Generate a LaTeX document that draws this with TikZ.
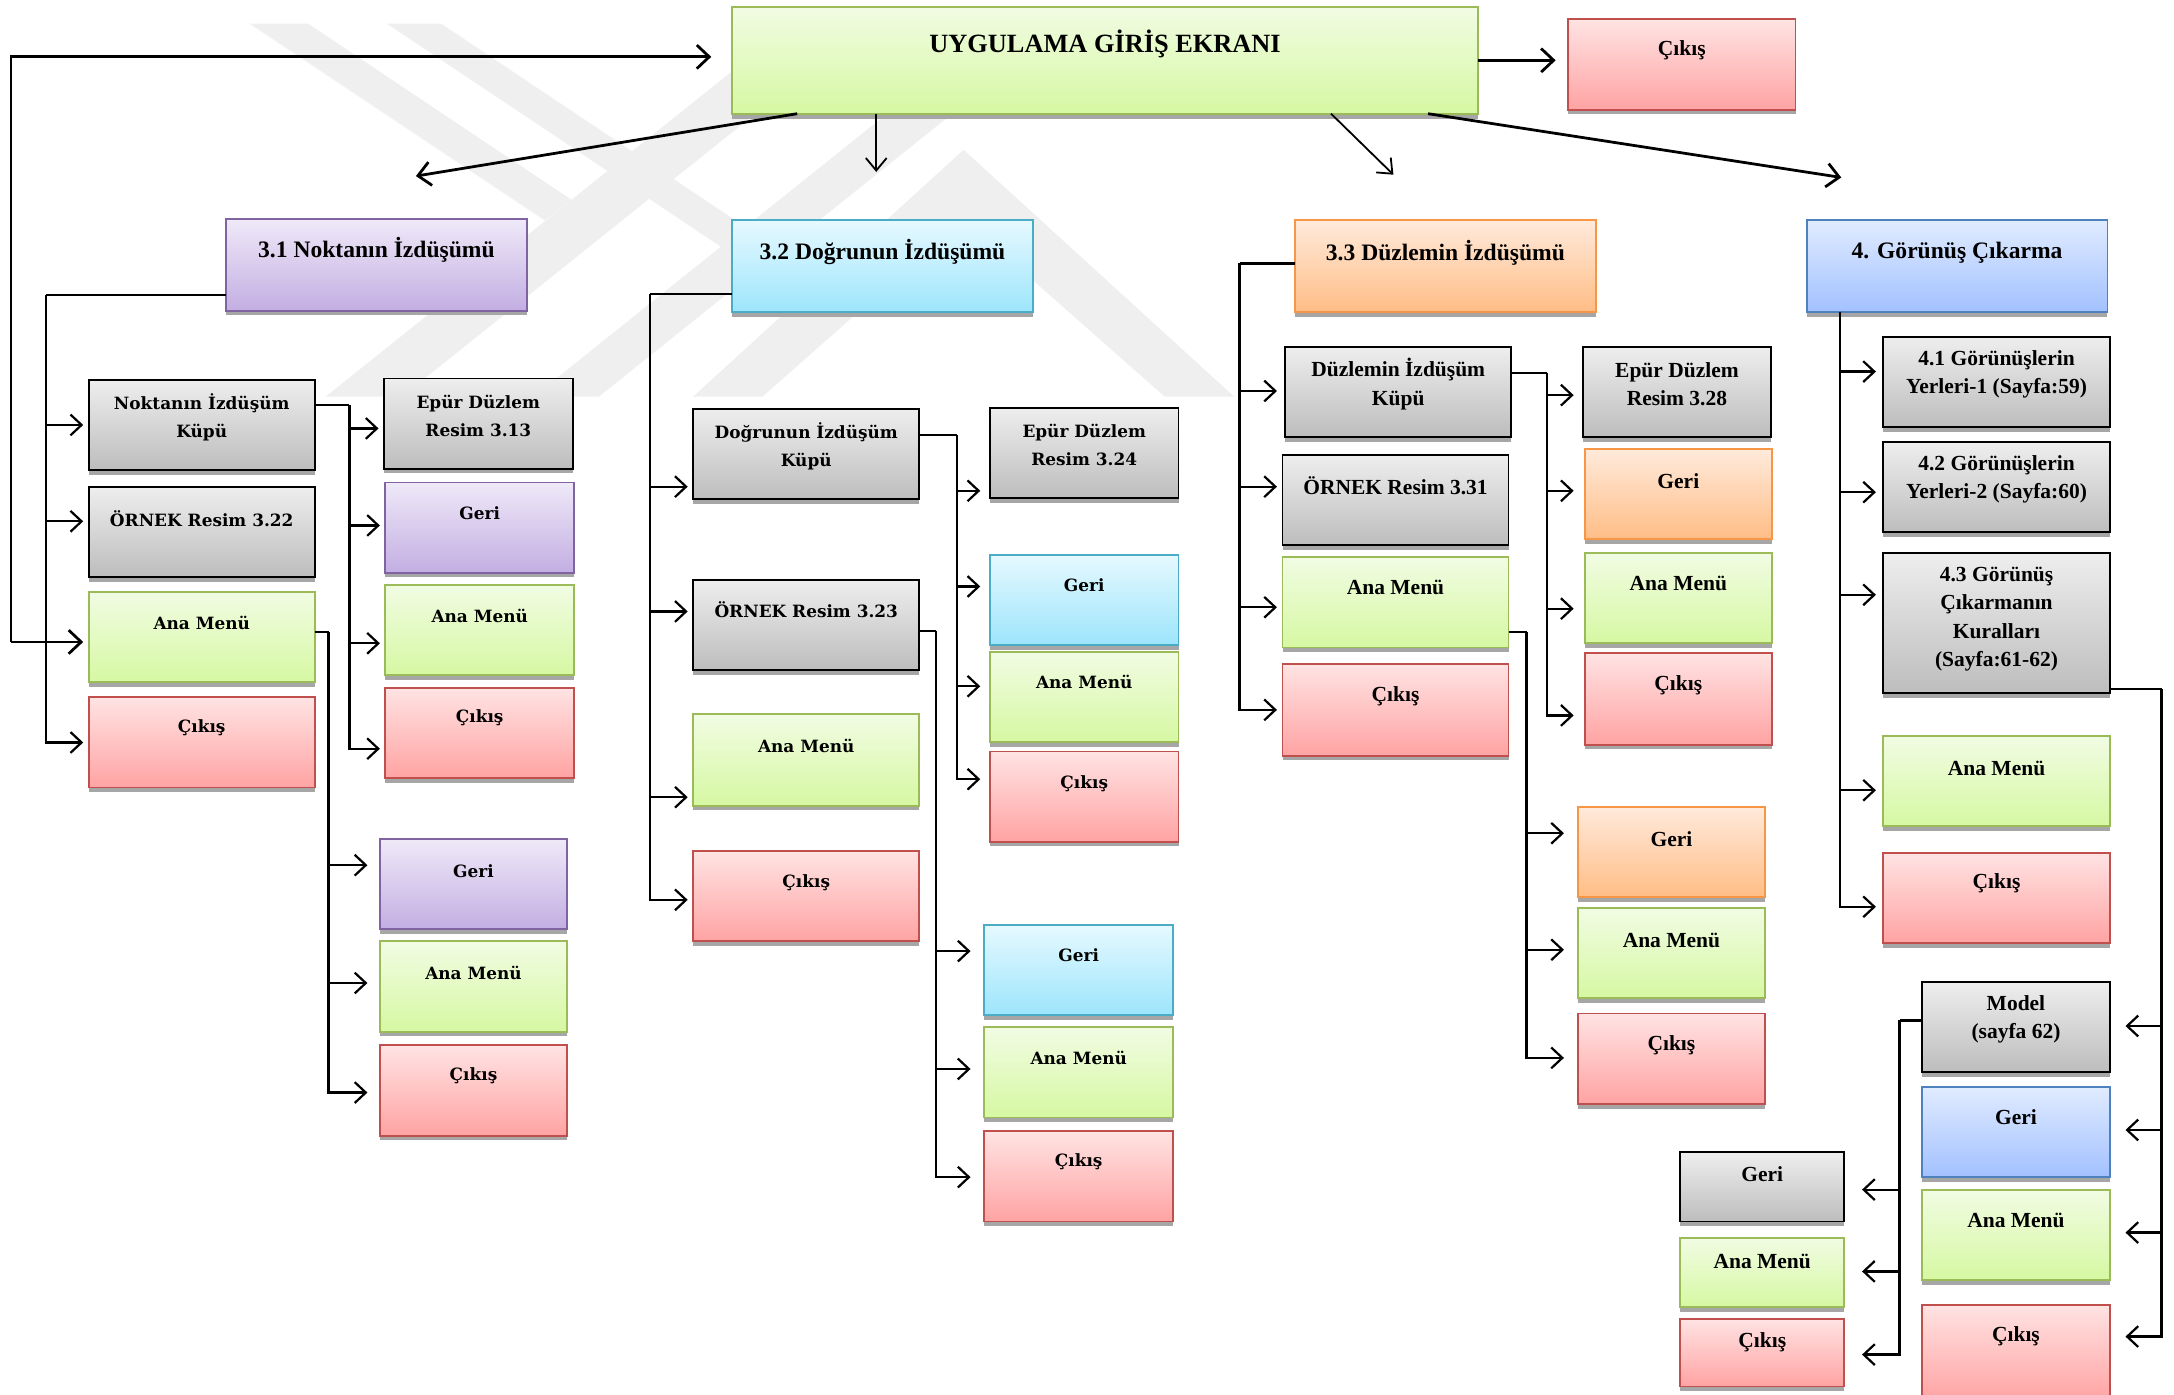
\documentclass[tikz,border=0pt]{standalone}
\usepackage{fontspec}
\setmainfont{Liberation Serif}
\newfontfamily\widefont{DejaVu Serif}
\usetikzlibrary{arrows.meta}
\definecolor{wm}{HTML}{EFEFEF}
\definecolor{shadowc}{HTML}{A6A6A6}
\definecolor{gT}{HTML}{F1FCE3}\definecolor{gB}{HTML}{D6F8A2}\definecolor{gD}{HTML}{9BBB59}
\definecolor{rT}{HTML}{FFE3E3}\definecolor{rB}{HTML}{FFA3A3}\definecolor{rD}{HTML}{C0504D}
\definecolor{yT}{HTML}{EEEEEE}\definecolor{yB}{HTML}{BDBDBD}
\definecolor{pT}{HTML}{EFE9F8}\definecolor{pB}{HTML}{C3AEE2}\definecolor{pD}{HTML}{8064A2}
\definecolor{cT}{HTML}{E6F9FF}\definecolor{cB}{HTML}{9DE5FC}\definecolor{cD}{HTML}{4BACC6}
\definecolor{oT}{HTML}{FFEADB}\definecolor{oB}{HTML}{FFBD86}\definecolor{oD}{HTML}{F79646}
\definecolor{bT}{HTML}{E0EBFF}\definecolor{bB}{HTML}{A2C1FF}\definecolor{bD}{HTML}{4F81BD}
\tikzset{
  bxbase/.style={rectangle, anchor=north west, line width=1.4pt, inner sep=0pt, outer sep=0pt},
  gbox/.style={top color=gT, bottom color=gB, draw=gD},
  rbox/.style={top color=rT, bottom color=rB, draw=rD},
  ybox/.style={top color=yT, bottom color=yB, draw=black},
  pbox/.style={top color=pT, bottom color=pB, draw=pD},
  cbox/.style={top color=cT, bottom color=cB, draw=cD},
  obox/.style={top color=oT, bottom color=oB, draw=oD},
  bbox/.style={top color=bT, bottom color=bB, draw=bD},
  txt/.style={inner sep=0pt, align=center, anchor=center},
  tf/.style={font=\fontsize{15.5}{20.3}\selectfont\bfseries},
  wf/.style={font=\widefont\fontsize{12.2}{20}\selectfont\bfseries},
  hf/.style={font=\fontsize{17}{20}\selectfont\bfseries},
  mf/.style={font=\fontsize{19}{22}\selectfont\bfseries},
  conn/.style={line width=1.6pt},
  arr/.style={conn, -{Straight Barb[length=8pt,width=15pt]}},
  arrT/.style={line width=2pt, -{Straight Barb[length=9pt,width=17pt]}},
  arrt/.style={line width=1.3pt, -{Straight Barb[length=9pt,width=15pt]}},
}
\newcommand\bx[9]{%
  \fill[shadowc] (#3,#6) rectangle (#5,#6+3.5);
  \node[bxbase,#2,minimum width=#5-#3,minimum height=#6-#4] (#1) at (#3,#4) {};
  \node[txt,#8] (#1t) at ({(#3+#5)/2},#7) {#9};
}
\newcommand\brw[4]{\draw[arr] (#1) |- ([xshift=#3pt,yshift=#4pt]#2);}
\begin{document}
\begin{tikzpicture}[x=1pt,y=-1pt]
\useasboundingbox (0,0) rectangle (1568,1006);
\clip (0,0) rectangle (1568,1006);
\fill[white] (0,0) rectangle (1568,1006);
% watermark
\fill[wm] (180,17) -- (222,17) -- (412,144) -- (393,159) -- cycle;
\fill[wm] (235,286) -- (290,286) -- (626,17) -- (571,17) -- cycle;
\fill[wm] (279,17) -- (318,17) -- (538,164) -- (520,178) -- cycle;
\fill[wm] (385,286) -- (432,286) -- (768,17) -- (721,17) -- cycle;
\fill[wm] (500,286) -- (695,108) -- (890,286) -- (840,286) -- (695,158) -- (550,286) -- cycle;

% boxes
\bx{main}{gbox}{528}{5}{1066}{82}{32}{mf}{UYGULAMA GİRİŞ EKRANI}
\bx{ex0}{rbox}{1131}{14}{1295}{79}{36}{tf}{Çıkış}
\bx{h31}{pbox}{163}{158}{380}{224}{180}{hf}{3.1 Noktanın İzdüşümü}
\bx{h32}{cbox}{528}{159}{745}{225}{182}{hf}{3.2 Doğrunun İzdüşümü}
\bx{h33}{obox}{934}{159}{1151}{225}{182}{hf}{3.3 Düzlemin İzdüşümü}
\bx{h40}{bbox}{1303}{159}{1520}{225}{182}{hf}{4. Görünüş Çıkarma}

\bx{a1}{ybox}{64}{274}{227}{339}{301}{wf}{Noktanın İzdüşüm\\Küpü}
\bx{a2}{ybox}{64}{351}{227}{416}{374}{wf}{ÖRNEK Resim 3.22}
\bx{a3}{gbox}{64}{427}{227}{492}{449}{wf}{Ana Menü}
\bx{a4}{rbox}{64}{503}{227}{568}{525}{wf}{Çıkış}
\bx{b1}{ybox}{277}{273}{413}{338}{300}{wf}{Epür Düzlem\\Resim 3.13}
\bx{b2}{pbox}{278}{348}{414}{413}{370}{wf}{Geri}
\bx{b3}{gbox}{278}{422}{414}{487}{444}{wf}{Ana Menü}
\bx{b4}{rbox}{278}{496}{414}{561}{518}{wf}{Çıkış}
\bx{c1}{pbox}{274}{605}{409}{670}{628}{wf}{Geri}
\bx{c2}{gbox}{274}{679}{409}{744}{702}{wf}{Ana Menü}
\bx{c3}{rbox}{274}{754}{409}{819}{776}{wf}{Çıkış}

\bx{d1}{ybox}{500}{295}{663}{360}{322}{wf}{Doğrunun İzdüşüm\\Küpü}
\bx{d2}{ybox}{500}{418}{663}{483}{440}{wf}{ÖRNEK Resim 3.23}
\bx{d3}{gbox}{500}{515}{663}{581}{538}{wf}{Ana Menü}
\bx{d4}{rbox}{500}{614}{663}{679}{637}{wf}{Çıkış}
\bx{e1}{ybox}{714}{294}{850}{359}{321}{wf}{Epür Düzlem\\Resim 3.24}
\bx{e2}{cbox}{714}{400}{850}{465}{422}{wf}{Geri}
\bx{e3}{gbox}{714}{470}{850}{535}{492}{wf}{Ana Menü}
\bx{e4}{rbox}{714}{542}{850}{607}{565}{wf}{Çıkış}
\bx{f1}{cbox}{710}{667}{846}{732}{689}{wf}{Geri}
\bx{f2}{gbox}{710}{741}{846}{806}{763}{wf}{Ana Menü}
\bx{f3}{rbox}{710}{816}{846}{881}{838}{wf}{Çıkış}

\bx{g1}{ybox}{927}{250}{1090}{315}{277}{tf}{Düzlemin İzdüşüm\\Küpü}
\bx{g2}{ybox}{925}{328}{1088}{393}{350}{tf}{ÖRNEK Resim 3.31}
\bx{g3}{gbox}{925}{402}{1088}{467}{424}{tf}{Ana Menü}
\bx{g4}{rbox}{925}{479}{1088}{545}{502}{tf}{Çıkış}
\bx{q1}{ybox}{1142}{250}{1277}{315}{277}{tf}{Epür Düzlem\\Resim 3.28}
\bx{q2}{obox}{1143}{324}{1278}{389}{347}{tf}{Geri}
\bx{q3}{gbox}{1143}{399}{1278}{464}{421}{tf}{Ana Menü}
\bx{q4}{rbox}{1143}{471}{1278}{537}{494}{tf}{Çıkış}
\bx{i1}{obox}{1138}{582}{1273}{647}{605}{tf}{Geri}
\bx{i2}{gbox}{1138}{655}{1273}{720}{678}{tf}{Ana Menü}
\bx{i3}{rbox}{1138}{731}{1273}{796}{754}{tf}{Çıkış}

\bx{k1}{ybox}{1358}{243}{1522}{308}{270}{tf}{4.1 Görünüşlerin\\Yerleri-1 (Sayfa:59)}
\bx{k2}{ybox}{1358}{319}{1522}{384}{345.5}{tf}{4.2 Görünüşlerin\\Yerleri-2 (Sayfa:60)}
\bx{k3}{ybox}{1358}{399}{1522}{500}{446.5}{tf}{4.3 Görünüş\\Çıkarmanın\\Kuralları\\(Sayfa:61-62)}
\bx{k4}{gbox}{1358}{531}{1522}{596}{554}{tf}{Ana Menü}
\bx{k5}{rbox}{1358}{615}{1522}{680}{637}{tf}{Çıkış}
\bx{m1}{ybox}{1386}{708}{1522}{773}{735}{tf}{Model\\(sayfa 62)}
\bx{m2}{bbox}{1386}{784}{1522}{849}{806}{tf}{Geri}
\bx{m3}{gbox}{1386}{858}{1522}{923}{880}{tf}{Ana Menü}
\bx{m4}{rbox}{1386}{941}{1522}{1010}{964}{tf}{Çıkış}
\bx{n1}{ybox}{1212}{831}{1330}{881}{847}{tf}{Geri}
\bx{n2}{gbox}{1212}{893}{1330}{943}{910}{tf}{Ana Menü}
\bx{n3}{rbox}{1212}{951}{1330}{1000}{968}{tf}{Çıkış}

% connectors from the main box
\coordinate (lp) at (8,463);
\draw[arrT] (lp) |- ([xshift=-15pt,yshift=2.5pt]main.west);
\draw[arrT, shorten >=4pt] (lp) -- (lp -| a3.west);
\coordinate (p31) at (300,127);
\coordinate (p32) at (632,124);
\coordinate (p33) at (1005,126);
\coordinate (p4) at (1328,128);
\draw[arrT] ([xshift=47pt]main.south west) -- (p31);
\draw[arrt] ([xshift=104pt]main.south west) -- (p32);
\draw[arrt] ([xshift=432pt]main.south west) -- (p33);
\draw[arrT] ([xshift=502pt]main.south west) -- (p4);
\draw[arrT, shorten >=9pt] (main.east) -- (main.east -| ex0.west);

% 3.1
\coordinate (t31) at (33,213);
\draw[conn] (h31.west |- t31) -- (t31);
\brw{t31}{a1.west}{-4}{0}
\brw{t31}{a2.west}{-4}{7.5}
\brw{t31}{a4.west}{-4}{0}
\coordinate (tb) at (252,292);
\draw[conn] (a1.east |- tb) -- (tb);
\brw{tb}{b1.west}{-4}{-3.5}
\brw{tb}{b2.west}{-4}{1.5}
\brw{tb}{b3.west}{-4}{-9.5}
\brw{tb}{b4.west}{-4}{-11.5}
\coordinate (tc) at (237,456);
\draw[conn] (a3.east |- tc) -- (tc);
\brw{tc}{c1.west}{-9}{13.5}
\brw{tc}{c2.west}{-9}{2.5}
\brw{tc}{c3.west}{-9}{-1.5}

% 3.2
\coordinate (t32) at (469,212);
\draw[conn] (h32.west |- t32) -- (t32);
\brw{t32}{d1.west}{-4}{-23.5}
\brw{t32}{d2.west}{-4}{9.5}
\brw{t32}{d3.west}{-4}{-27}
\brw{t32}{d4.west}{-4}{-2.5}
\coordinate (te) at (690,314);
\draw[conn] (d1.east |- te) -- (te);
\brw{te}{e1.west}{-7}{-27.5}
\brw{te}{e2.west}{-7}{9.5}
\brw{te}{e3.west}{-7}{7.5}
\brw{te}{e4.west}{-7}{12.5}
\coordinate (tff) at (675,455);
\draw[conn] (d2.east |- tff) -- (tff);
\brw{tff}{f1.west}{-10}{13.5}
\brw{tff}{f2.west}{-10}{2.5}
\brw{tff}{f3.west}{-10}{-0.5}

% 3.3
\coordinate (t33) at (894,190);
\draw[conn] (h33.west |- t33) -- (t33);
\brw{t33}{g1.west}{-6}{0.5}
\brw{t33}{g2.west}{-4}{9.5}
\brw{t33}{g3.west}{-4}{-3.5}
\brw{t33}{g4.west}{-4}{0}
\coordinate (tq) at (1116,269);
\draw[conn] (g1.east |- tq) -- (tq);
\brw{tq}{q1.west}{-7}{-2.5}
\brw{tq}{q2.west}{-8}{2.5}
\brw{tq}{q3.west}{-8}{-7.5}
\brw{tq}{q4.west}{-8}{-12}
\coordinate (ti) at (1101,456);
\draw[conn] (g3.east |- ti) -- (ti);
\brw{ti}{i1.west}{-10}{13.5}
\brw{ti}{i2.west}{-10}{2.5}
\brw{ti}{i3.west}{-10}{0.5}

% 4
\coordinate (t4) at ([xshift=24pt]h40.south west);
\brw{t4}{k1.west}{-5}{7.5}
\brw{t4}{k2.west}{-5}{-3.5}
\brw{t4}{k3.west}{-5}{20.5}
\brw{t4}{k4.west}{-5}{-6.5}
\brw{t4}{k5.west}{-5}{-6.5}
\coordinate (tk) at (1559,497);
\draw[conn] (k3.east |- tk) -- (tk);
\brw{tk}{m1.east}{11}{0.5}
\brw{tk}{m2.east}{11}{1.5}
\brw{tk}{m3.east}{11}{1.5}
\brw{tk}{m4.east}{11}{11.5}
\coordinate (tl) at (1370,736);
\draw[conn] (m1.west |- tl) -- (tl);
\brw{tl}{n1.east}{13}{-2}
\brw{tl}{n2.east}{13}{1}
\brw{tl}{n3.east}{13}{-1.5}
\end{tikzpicture}
\end{document}
